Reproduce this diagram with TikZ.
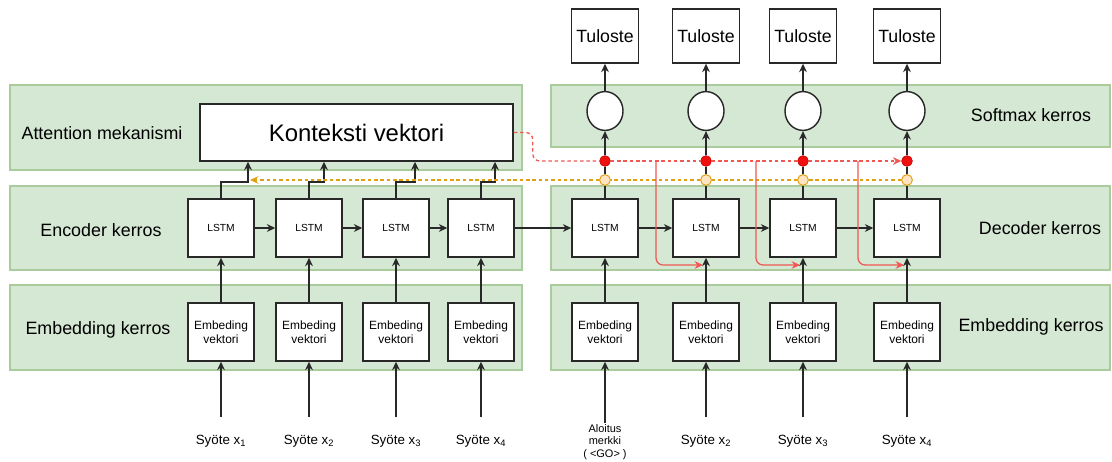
\documentclass[tikz,border=0pt]{standalone}
\usepackage{fontspec}
\setmainfont{Liberation Sans}
\usetikzlibrary{arrows.meta, positioning, shapes.geometric}
\definecolor{panelgreen}{RGB}{213, 232, 212}
\definecolor{panelline}{RGB}{170, 204, 156}
\definecolor{ctxred}{RGB}{240, 88, 84}
\definecolor{dotred}{RGB}{240, 16, 16}
\definecolor{attorange}{RGB}{224, 160, 20}
\definecolor{dotorange}{RGB}{255, 228, 196}
\definecolor{boxgray}{RGB}{40, 40, 40}

\begin{document}
\begin{tikzpicture}[x=0.025cm, y=-0.025cm,
  panel/.style={fill=panelgreen, draw=panelline, line width=0.9pt},
  lstm/.style={draw=boxgray, fill=white, line width=1pt, minimum width=1.65cm,
    minimum height=1.45cm, inner sep=0pt, font=\fontsize{7.3}{9}\selectfont},
  emb/.style={lstm, align=center, font=\fontsize{8.5}{10.3}\selectfont},
  outbox/.style={lstm, minimum width=1.675cm, minimum height=1.35cm, font=\fontsize{12.6}{15}\selectfont},
  smx/.style={ellipse, draw=boxgray, fill=white, line width=1pt, minimum width=0.9cm,
    minimum height=0.97cm, inner sep=0pt},
  rdot/.style={circle, fill=dotred, draw=red!75!black, line width=0.4pt, minimum size=0.27cm, inner sep=0pt},
  odot/.style={circle, fill=dotorange, draw=attorange, line width=0.7pt, minimum size=0.27cm, inner sep=0pt},
  layer/.style={font=\fontsize{12.7}{15}\selectfont},
  inlabel/.style={font=\fontsize{9.5}{11}\selectfont},
  arr/.style={-{Stealth[length=6pt,width=5.5pt]}, line width=0.9pt, draw=boxgray},
  inarr/.style={arr, shorten <=9pt}]
\useasboundingbox (0,0) rectangle (1112,461);

% Layer panels
\draw[panel] (10,85) rectangle (522,170);
\draw[panel] (10,186) rectangle (522,270);
\draw[panel] (10,285) rectangle (522,370);
\draw[panel] (551,85) rectangle (1110,147);
\draw[panel] (551,186) rectangle (1110,270);
\draw[panel] (551,285) rectangle (1110,370);

\node[layer] (attn) at (102,133) {Attention mekanismi};
\node[layer] (enc) at (101,230) {Encoder kerros};
\node[layer] (embl) at (98,330) {Embedding kerros};
\node[layer] (smk) at (1031,115) {Softmax kerros};
\node[layer] (dec) at (1040,228) {Decoder kerros};
\node[layer] (embr) at (1031,327) {Embedding kerros};

% Encoder side
\node[draw=boxgray, fill=white, line width=1pt, minimum width=7.825cm, minimum height=1.425cm,
      font=\fontsize{17}{20}\selectfont] (kv) at (356.5,132.5) {Konteksti vektori};

\node[lstm] (el1) at (221,228) {LSTM};
\node[lstm] (el2) at (309,228) {LSTM};
\node[lstm] (el3) at (396,228) {LSTM};
\node[lstm] (el4) at (481,228) {LSTM};

\node[emb] (ee1) at (221,332) {Embeding\\vektori};
\node[emb] (ee2) at (309,332) {Embeding\\vektori};
\node[emb] (ee3) at (396,332) {Embeding\\vektori};
\node[emb] (ee4) at (481,332) {Embeding\\vektori};

\node[inlabel] (in1) at (221,441) {Syöte x\textsubscript{1}};
\node[inlabel] (in2) at (309,441) {Syöte x\textsubscript{2}};
\node[inlabel] (in3) at (396,441) {Syöte x\textsubscript{3}};
\node[inlabel] (in4) at (481,441) {Syöte x\textsubscript{4}};

% Decoder side
\node[outbox] (out1) at (605,36) {Tuloste};
\node[outbox] (out2) at (706,36) {Tuloste};
\node[outbox] (out3) at (803,36) {Tuloste};
\node[outbox] (out4) at (907,36) {Tuloste};

\node[smx] (sm1) at (605,111) {};
\node[smx] (sm2) at (706,111) {};
\node[smx] (sm3) at (803,111) {};
\node[smx] (sm4) at (907,111) {};

\node[rdot] (rd1) at (605,161) {};
\node[rdot] (rd2) at (706,161) {};
\node[rdot] (rd3) at (803,161) {};
\node[rdot] (rd4) at (907,161) {};

\node[odot] (od1) at (605,180) {};
\node[odot] (od2) at (706,180) {};
\node[odot] (od3) at (803,180) {};
\node[odot] (od4) at (907,180) {};

\node[lstm] (dl1) at (605,228) {LSTM};
\node[lstm] (dl2) at (706,228) {LSTM};
\node[lstm] (dl3) at (803,228) {LSTM};
\node[lstm] (dl4) at (907,228) {LSTM};

\node[emb] (de1) at (605,332) {Embeding\\vektori};
\node[emb] (de2) at (706,332) {Embeding\\vektori};
\node[emb] (de3) at (803,332) {Embeding\\vektori};
\node[emb] (de4) at (907,332) {Embeding\\vektori};

\node[font=\fontsize{7.8}{9}\selectfont, align=center, inner sep=1pt] (in5) at (605,442) {Aloitus\\merkki\\( <GO> )};
\node[inlabel] (in6) at (706,441) {Syöte x\textsubscript{2}};
\node[inlabel] (in7) at (803,441) {Syöte x\textsubscript{3}};
\node[inlabel] (in8) at (907,441) {Syöte x\textsubscript{4}};

% Inputs
\draw[inarr] (in1.north) -- (ee1.south);
\draw[inarr] (in2.north) -- (ee2.south);
\draw[inarr] (in3.north) -- (ee3.south);
\draw[inarr] (in4.north) -- (ee4.south);
\draw[arr] (in5.north) -- (de1.south);
\draw[inarr] (in6.north) -- (de2.south);
\draw[inarr] (in7.north) -- (de3.south);
\draw[inarr] (in8.north) -- (de4.south);

\draw[arr] (ee1) -- (el1);
\draw[arr] (ee2) -- (el2);
\draw[arr] (ee3) -- (el3);
\draw[arr] (ee4) -- (el4);
\draw[arr] (de1) -- (dl1);
\draw[arr] (de2) -- (dl2);
\draw[arr] (de3) -- (dl3);
\draw[arr] (de4) -- (dl4);

% Recurrent chain
\draw[arr] (el1) -- (el2);
\draw[arr] (el2) -- (el3);
\draw[arr] (el3) -- (el4);
\draw[arr] (el4) -- (dl1);
\draw[arr] (dl1) -- (dl2);
\draw[arr] (dl2) -- (dl3);
\draw[arr] (dl3) -- (dl4);

% Encoder states to context
\draw[arr] (el1.north) |- (248,182) -- (248,182 |- kv.south);
\draw[arr] (el2.north) |- (324,182) -- (324,182 |- kv.south);
\draw[arr] (el3.north) |- (415,182) -- (415,182 |- kv.south);
\draw[arr] (el4.north) |- (495,182) -- (495,182 |- kv.south);

% Decoder outputs
\draw[line width=0.9pt, boxgray] (dl1) -- (od1) -- (rd1);
\draw[line width=0.9pt, boxgray] (dl2) -- (od2) -- (rd2);
\draw[line width=0.9pt, boxgray] (dl3) -- (od3) -- (rd3);
\draw[line width=0.9pt, boxgray] (dl4) -- (od4) -- (rd4);
\draw[arr] (rd1) -- (sm1);
\draw[arr] (rd2) -- (sm2);
\draw[arr] (rd3) -- (sm3);
\draw[arr] (rd4) -- (sm4);
\draw[arr] (sm1) -- (out1);
\draw[arr] (sm2) -- (out2);
\draw[arr] (sm3) -- (out3);
\draw[arr] (sm4) -- (out4);

% Attention feedback (dashed)
\coordinate (oa) at (250,180);
\draw[attorange, line width=0.8pt, dash pattern=on 2.5pt off 2pt] (od4) -- (od3) -- (od2) -- (od1);
\draw[attorange, line width=0.8pt, dash pattern=on 2.5pt off 2pt, -{Stealth[length=6pt,width=5.5pt]}] (od1) -- (oa);
\draw[ctxred, line width=0.9pt, dash pattern=on 2.5pt off 2pt, rounded corners=5pt] (kv.east) -- ++(19,0) |- (rd1);
\draw[ctxred, line width=0.9pt, dash pattern=on 2.5pt off 2pt] (rd1) -- (rd2) -- (rd3);
\draw[ctxred, line width=0.9pt, dash pattern=on 2.5pt off 2pt, -{Stealth[length=6pt,width=5.5pt]}] (rd3) -- (rd4);

% Context into decoder
\coordinate (br1) at (656,161);
\coordinate (br2) at (756,161);
\coordinate (br3) at (858,161);
\coordinate (rt1) at (703,265);
\coordinate (rt2) at (800,265);
\coordinate (rt3) at (904,265);
\draw[ctxred, line width=0.9pt, rounded corners=5pt, -{Stealth[length=6pt,width=5.5pt]}] (br1) |- (rt1);
\draw[ctxred, line width=0.9pt, rounded corners=5pt, -{Stealth[length=6pt,width=5.5pt]}] (br2) |- (rt2);
\draw[ctxred, line width=0.9pt, rounded corners=5pt, -{Stealth[length=6pt,width=5.5pt]}] (br3) |- (rt3);

\end{tikzpicture}
\end{document}
